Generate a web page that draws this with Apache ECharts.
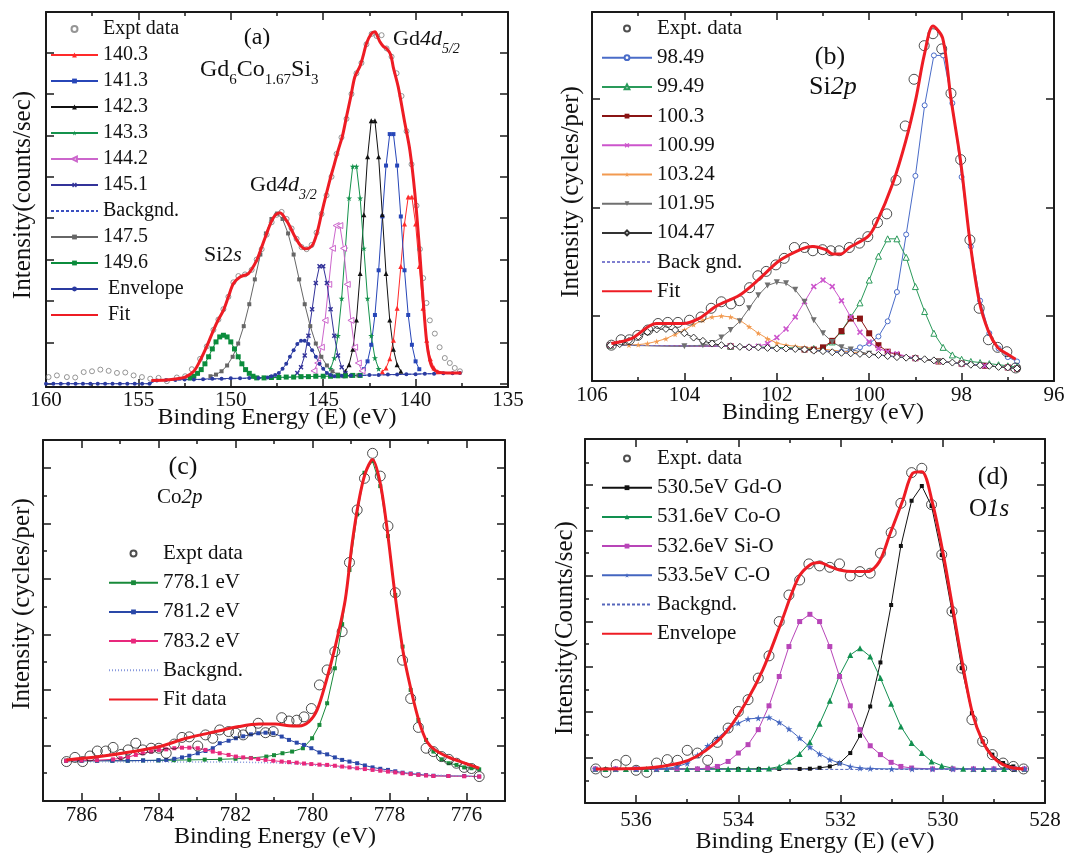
<!DOCTYPE html>
<html><head><meta charset="utf-8">
<script src="https://cdn.jsdelivr.net/npm/echarts@6/dist/echarts.min.js"></script>
<style>html,body{margin:0;padding:0;background:#fff}#c{width:1092px;height:855px}</style>
</head><body><div id="c"></div>
<script>
// ---------------- Panel (a): Gd4d ----------------
const a_expt=[[159.86,0.16],[159.41,0.2],[158.87,0.16],[158.42,0.15],[157.96,0.28],[157.51,0.3],[157.06,0.34],[156.61,0.31],[156.16,0.26],[155.71,0.27],[155.26,0.2],[154.81,0.16],[154.36,0.12],[153.91,0.14],[153.46,0.06],[152.92,0.15],[152.47,0.18],[152.11,0.35],[151.66,0.6],[151.3,0.9],[150.94,1.3],[150.67,1.55],[150.4,1.8],[150.13,2.1],[149.86,2.45],[149.59,2.6],[149.23,2.64],[148.87,2.75],[148.6,3.0],[148.33,3.25],[148.06,3.6],[147.79,3.9],[147.52,4.08],[147.25,4.15],[146.98,3.98],[146.71,3.75],[146.44,3.5],[146.17,3.3],[145.9,3.25],[145.63,3.35],[145.36,3.65],[145.09,4.1],[144.82,4.55],[144.55,5.0],[144.28,5.55],[144.01,5.95],[143.74,6.4],[143.47,7.0],[143.2,7.5],[142.93,7.75],[142.66,8.2],[142.38,8.45],[142.11,8.4],[141.84,8.42],[141.57,8.1],[141.3,7.9],[141.03,7.5],[140.76,6.95],[140.49,6.1],[140.22,5.3],[139.95,4.3],[139.77,3.25],[139.59,2.55],[139.41,1.95],[139.23,1.53],[138.96,1.21],[138.7,0.88],[138.42,0.62],[138.15,0.5],[137.88,0.38],[137.6,0.3]];
const a_p1403=[[141.8,0.29],[141.6,0.38],[141.4,0.6],[141.2,1.05],[141.0,1.82],[140.8,2.83],[140.6,3.86],[140.4,4.51],[140.2,4.51],[140.0,3.86],[139.8,2.83],[139.6,1.82],[139.4,1.05],[139.2,0.6],[139.0,0.38],[138.8,0.29]];
const a_p1413=[[142.8,0.35],[142.6,0.54],[142.4,0.94],[142.2,1.66],[142.0,2.74],[141.8,4.04],[141.6,5.27],[141.4,6.03],[141.2,6.03],[141.0,5.27],[140.8,4.04],[140.6,2.74],[140.4,1.66],[140.2,0.94],[140.0,0.54],[139.8,0.35]];
const a_p1423=[[143.8,0.3],[143.6,0.46],[143.4,0.83],[143.2,1.54],[143.0,2.66],[142.8,4.08],[142.6,5.48],[142.4,6.35],[142.2,6.35],[142.0,5.48],[141.8,4.08],[141.6,2.66],[141.4,1.54],[141.2,0.83],[141.0,0.46],[140.8,0.3]];
const a_p1433=[[144.6,0.36],[144.4,0.62],[144.2,1.16],[144.0,2.06],[143.8,3.27],[143.6,4.48],[143.4,5.25],[143.2,5.25],[143.0,4.48],[142.8,3.27],[142.6,2.06],[142.4,1.16],[142.2,0.62],[142.0,0.36]];
const a_p1442=[[145.5,0.31],[145.3,0.5],[145.1,0.88],[144.9,1.53],[144.7,2.4],[144.5,3.27],[144.3,3.82],[144.1,3.82],[143.9,3.27],[143.7,2.4],[143.5,1.53],[143.3,0.88],[143.1,0.5],[142.9,0.31]];
const a_p1451=[[146.4,0.26],[146.2,0.4],[146.0,0.68],[145.8,1.16],[145.6,1.8],[145.4,2.43],[145.2,2.84],[145.0,2.84],[144.8,2.43],[144.6,1.8],[144.4,1.16],[144.2,0.68],[144.0,0.4],[143.8,0.26]];
const a_bg=[[160,0.0],[154.3,0.0],[154.3,0.07],[137.5,0.26]];
const a_p1475=[[151.1,0.18],[150.8,0.22],[150.5,0.3],[150.2,0.44],[149.9,0.65],[149.6,0.97],[149.3,1.39],[149.0,1.92],[148.7,2.52],[148.4,3.12],[148.1,3.63],[147.8,3.98],[147.5,4.11],[147.2,3.98],[146.9,3.63],[146.6,3.12],[146.3,2.52],[146.0,1.92],[145.7,1.39],[145.4,0.97],[145.1,0.65],[144.8,0.44],[144.5,0.3],[144.2,0.22],[143.9,0.18],[143.5,0.19],[143.1,0.2]];
const a_p1496=[[152.2,0.14],[152.0,0.18],[151.8,0.25],[151.6,0.34],[151.4,0.48],[151.2,0.65],[151.0,0.84],[150.8,1.01],[150.6,1.13],[150.4,1.17],[150.2,1.13],[150.0,1.01],[149.8,0.84],[149.6,0.65],[149.4,0.48],[149.2,0.34],[149.0,0.25],[148.8,0.18],[148.6,0.14],[148.2,0.14],[147.8,0.15],[147.4,0.15],[147.0,0.16],[146.6,0.16],[146.2,0.17],[145.8,0.17],[145.4,0.18],[145.0,0.18],[144.6,0.18],[144.2,0.19],[143.8,0.19],[143.4,0.2],[143.0,0.2]];
const a_env=[[160,0.0],[159.6,0.0],[159.2,0.0],[158.8,0.0],[158.4,0.0],[158.0,0.0],[157.6,0.0],[157.2,0.0],[156.8,0.0],[156.4,0.0],[156.0,0.0],[155.6,0.0],[155.2,0.0],[154.8,0.0],[154.4,0.0],[154.0,0.08],[153.5,0.09],[153.0,0.09],[152.5,0.1],[152.0,0.1],[151.5,0.11],[151.0,0.12],[150.5,0.12],[150.0,0.13],[149.5,0.13],[149.0,0.14],[148.5,0.14],[148.0,0.15],[147.8,0.18],[147.6,0.21],[147.4,0.26],[147.2,0.36],[147.0,0.48],[146.8,0.65],[146.6,0.81],[146.4,0.96],[146.2,1.04],[146.0,1.04],[145.8,0.96],[145.6,0.81],[145.4,0.65],[145.2,0.48],[145.0,0.36],[144.8,0.26],[144.6,0.21],[144.4,0.18],[144.0,0.19],[143.5,0.2],[143.0,0.2],[142.5,0.21],[142.0,0.21],[141.5,0.22],[141.0,0.22],[140.5,0.23],[140.0,0.23],[139.5,0.24],[139.0,0.24],[138.5,0.25],[138.0,0.25],[137.6,0.26]];
const a_fit=[[154.3,0.08],[153.5,0.09],[152.9,0.12],[152.47,0.16],[152.0,0.3],[151.66,0.56],[151.3,0.9],[150.94,1.29],[150.67,1.55],[150.4,1.77],[150.13,2.1],[149.86,2.42],[149.5,2.58],[149.05,2.66],[148.6,2.98],[148.33,3.3],[148.06,3.63],[147.8,3.92],[147.6,4.07],[147.34,4.13],[147.0,3.95],[146.75,3.75],[146.53,3.55],[146.25,3.35],[145.99,3.26],[145.75,3.28],[145.54,3.38],[145.3,3.7],[145.09,4.11],[144.85,4.55],[144.64,4.92],[144.4,5.3],[144.19,5.64],[143.95,6.0],[143.74,6.45],[143.5,6.95],[143.29,7.41],[143.02,7.66],[142.85,7.9],[142.66,8.22],[142.4,8.45],[142.2,8.5],[142.05,8.38],[141.93,8.26],[141.75,8.15],[141.57,8.1],[141.35,7.95],[141.21,7.65],[140.94,7.17],[140.58,6.29],[140.31,5.64],[140.04,4.6],[139.77,3.14],[139.59,2.01],[139.41,1.05],[139.23,0.56],[139.05,0.36],[138.7,0.27],[138.3,0.26],[137.52,0.26]];

// ---------------- Panel (b): Si2p ----------------
const b_expt=[[105.58,0.73],[105.37,0.78],[105.19,0.78],[105.01,0.82],[104.79,0.87],[104.57,0.93],[104.36,0.94],[104.14,0.94],[103.89,0.96],[103.64,0.99],[103.42,1.07],[103.2,1.13],[102.99,1.11],[102.81,1.14],[102.59,1.26],[102.41,1.37],[102.23,1.41],[102.02,1.47],[101.84,1.53],[101.62,1.63],[101.4,1.63],[101.22,1.6],[101.01,1.61],[100.83,1.6],[100.65,1.6],[100.43,1.63],[100.21,1.67],[100.03,1.73],[99.82,1.86],[99.62,1.94],[99.42,2.25],[99.22,2.75],[99.03,3.18],[98.81,3.49],[98.62,3.6],[98.43,3.46],[98.23,3.05],[98.02,2.44],[97.82,1.7],[97.62,1.07],[97.42,0.78],[97.22,0.71],[97.02,0.67],[96.83,0.52]];
const b_p9849=[[105.6,0.73],[103.0,0.72],[101.4,0.69],[101.0,0.68],[100.6,0.67],[100.4,0.68],[100.2,0.71],[100.0,0.745],[99.8,0.81],[99.6,0.95],[99.4,1.22],[99.2,1.75],[99.0,2.29],[98.8,2.94],[98.6,3.4],[98.4,3.4],[98.2,2.96],[98.0,2.28],[97.8,1.64],[97.6,1.14],[97.4,0.84],[97.2,0.7],[97.0,0.62],[96.8,0.58]];
const b_p9949=[[105.6,0.73],[103.0,0.72],[101.2,0.7],[101.0,0.7],[100.8,0.76],[100.6,0.86],[100.4,0.99],[100.2,1.12],[100.0,1.33],[99.8,1.55],[99.6,1.71],[99.4,1.71],[99.2,1.54],[99.0,1.27],[98.8,1.04],[98.6,0.84],[98.4,0.71],[98.2,0.64],[98.0,0.6],[97.8,0.58],[97.6,0.57],[97.4,0.56],[97.2,0.55],[97.0,0.54],[96.8,0.53]];
const b_p1003=[[105.6,0.73],[103.0,0.72],[101.4,0.69],[101.2,0.69],[101.0,0.71],[100.8,0.77],[100.6,0.86],[100.4,0.975],[100.2,0.975],[100.0,0.84],[99.8,0.73],[99.6,0.67],[99.4,0.64],[99.0,0.61],[98.5,0.58],[98.0,0.56],[97.5,0.54],[97.0,0.525],[96.8,0.515]];
const b_p10099=[[105.6,0.73],[103.0,0.72],[102.6,0.71],[102.4,0.72],[102.2,0.745],[102.0,0.8],[101.8,0.88],[101.6,0.99],[101.4,1.13],[101.2,1.27],[101.0,1.33],[100.8,1.27],[100.6,1.14],[100.4,0.99],[100.2,0.85],[100.0,0.76],[99.8,0.7],[99.6,0.67],[99.4,0.65],[99.0,0.61],[98.5,0.58],[98.0,0.56],[97.5,0.54],[97.0,0.525],[96.8,0.515]];
const b_p10324=[[105.6,0.73],[105.2,0.73],[105.0,0.735],[104.8,0.745],[104.6,0.765],[104.4,0.79],[104.2,0.83],[104.0,0.87],[103.8,0.92],[103.6,0.96],[103.4,0.99],[103.2,1.0],[103.0,0.99],[102.8,0.96],[102.6,0.9],[102.4,0.84],[102.2,0.79],[102.0,0.75],[101.8,0.73],[101.6,0.72],[101.4,0.71],[100.0,0.65],[98.5,0.58],[96.8,0.515]];
const b_p10195=[[105.6,0.73],[104.0,0.72],[103.6,0.73],[103.4,0.75],[103.2,0.8],[103.0,0.87],[102.8,0.95],[102.6,1.07],[102.4,1.19],[102.2,1.28],[102.0,1.31],[101.8,1.3],[101.6,1.24],[101.4,1.13],[101.2,0.96],[101.0,0.84],[100.8,0.76],[100.6,0.71],[100.4,0.69],[100.0,0.65],[98.5,0.58],[96.8,0.515]];
const b_p10447=[[105.6,0.73],[105.4,0.74],[105.2,0.77],[105.0,0.81],[104.8,0.85],[104.6,0.875],[104.4,0.88],[104.2,0.87],[104.0,0.84],[103.8,0.8],[103.6,0.77],[103.4,0.745],[103.2,0.73],[103.0,0.72],[102.8,0.715],[102.6,0.71],[102.4,0.71],[102.2,0.705],[102.0,0.7],[101.8,0.7],[101.6,0.695],[101.4,0.69],[101.2,0.68],[101.0,0.675],[100.8,0.665],[100.6,0.66],[100.4,0.655],[100.2,0.65],[100.0,0.645],[99.8,0.64],[99.6,0.63],[99.4,0.62],[99.2,0.615],[99.0,0.61],[98.8,0.6],[98.6,0.59],[98.4,0.58],[98.2,0.57],[98.0,0.56],[97.8,0.55],[97.6,0.545],[97.4,0.54],[97.2,0.53],[97.0,0.525],[96.8,0.515]];
const b_bg=[[105.6,0.73],[103.0,0.72],[102.0,0.7],[101.0,0.675],[100.0,0.645],[99.0,0.61],[98.0,0.56],[97.0,0.525],[96.8,0.515]];
const b_fit=[[105.58,0.745],[105.15,0.79],[104.61,0.93],[104.03,0.93],[103.67,0.98],[103.31,1.09],[102.81,1.19],[102.38,1.34],[101.94,1.51],[101.44,1.62],[101.22,1.64],[100.94,1.61],[100.79,1.57],[100.61,1.57],[100.43,1.63],[100.03,1.73],[99.85,1.85],[99.49,2.22],[99.21,2.61],[98.99,3.0],[98.81,3.4],[98.62,3.67],[98.41,3.56],[98.23,3.0],[98.02,2.42],[97.82,1.69],[97.62,1.14],[97.42,0.86],[97.22,0.71],[97.02,0.65],[96.83,0.6]];

// ---------------- Panel (c): Co2p ----------------
const c_expt=[[786.39,1.42],[786.17,1.57],[785.97,1.42],[785.78,1.62],[785.59,1.8],[785.37,1.8],[785.18,1.93],[784.97,1.68],[784.79,1.84],[784.59,2.08],[784.41,1.84],[784.19,1.9],[783.99,1.9],[783.8,1.72],[783.59,2.05],[783.39,2.29],[783.2,2.31],[782.98,1.98],[782.78,2.38],[782.59,2.26],[782.41,2.56],[782.18,2.5],[781.99,2.44],[781.8,2.38],[781.6,2.56],[781.41,2.8],[781.22,2.46],[781.02,2.5],[780.8,3.0],[780.61,2.88],[780.41,2.91],[780.22,3.03],[780.03,3.33],[779.82,4.18],[779.62,4.72],[779.42,5.38],[779.23,6.1],[779.04,8.59],[778.84,10.48],[778.65,11.62],[778.44,12.52],[778.24,11.7],[778.04,9.9],[777.85,7.5],[777.66,5.07],[777.45,3.69],[777.25,2.65],[777.05,1.9],[776.86,1.78],[776.65,1.6],[776.46,1.5],[776.26,1.36],[776.06,1.21],[775.87,1.17],[775.67,0.88]];
const c_p7781=[[786.4,1.45],[786.0,1.45],[785.6,1.45],[785.2,1.45],[784.8,1.45],[784.4,1.46],[784.0,1.46],[783.6,1.47],[783.2,1.48],[782.8,1.49],[782.4,1.5],[782.0,1.52],[781.6,1.55],[781.2,1.6],[781.0,1.65],[780.78,1.72],[780.53,1.78],[780.25,1.9],[780.01,2.26],[779.82,2.74],[779.62,3.52],[779.42,4.78],[779.23,6.37],[779.04,8.32],[778.84,10.32],[778.65,11.82],[778.44,12.24],[778.24,11.34],[778.04,9.54],[777.85,7.42],[777.66,5.56],[777.45,4.0],[777.25,2.92],[777.05,2.2],[776.86,1.78],[776.65,1.5],[776.46,1.36],[776.26,1.3],[776.06,1.21],[775.87,1.18],[775.67,1.14]];
const c_p7812=[[786.4,1.45],[786.0,1.45],[785.6,1.45],[785.2,1.45],[784.8,1.45],[784.4,1.46],[784.0,1.47],[783.8,1.48],[783.59,1.52],[783.39,1.57],[783.2,1.63],[782.98,1.72],[782.78,1.8],[782.59,1.9],[782.41,2.08],[782.18,2.17],[781.99,2.26],[781.8,2.33],[781.6,2.4],[781.41,2.44],[781.22,2.46],[781.02,2.44],[780.8,2.32],[780.61,2.2],[780.41,2.1],[780.22,2.02],[780.03,1.9],[779.82,1.75],[779.62,1.68],[779.42,1.57],[779.23,1.48],[779.04,1.42],[778.84,1.36],[778.64,1.28],[778.44,1.21],[778.24,1.16],[778.04,1.12],[777.85,1.07],[777.66,1.02],[777.45,0.99],[777.25,0.96],[777.05,0.93],[776.86,0.91],[776.47,0.9],[776.06,0.9],[775.67,0.88]];
const c_p7832=[[786.4,1.45],[786.0,1.46],[785.6,1.47],[785.18,1.5],[784.99,1.54],[784.79,1.58],[784.59,1.66],[784.41,1.72],[784.19,1.78],[783.99,1.84],[783.8,1.86],[783.59,1.9],[783.39,1.92],[783.2,1.92],[782.98,1.9],[782.78,1.84],[782.59,1.78],[782.41,1.72],[782.18,1.66],[781.99,1.6],[781.8,1.57],[781.6,1.54],[781.41,1.51],[781.22,1.48],[781.02,1.45],[780.8,1.42],[780.61,1.4],[780.41,1.38],[780.22,1.35],[780.03,1.33],[779.82,1.31],[779.62,1.3],[779.42,1.27],[779.23,1.24],[779.04,1.21],[778.84,1.18],[778.64,1.15],[778.44,1.12],[778.24,1.09],[778.04,1.06],[777.85,1.03],[777.66,1.0],[777.45,0.97],[777.25,0.94],[777.05,0.92],[776.86,0.9],[776.47,0.9],[776.06,0.89],[775.67,0.88]];
const c_bg=[[786.4,1.42],[784.0,1.41],[782.0,1.4],[780.8,1.37],[779.5,1.25],[778.0,1.06],[777.0,0.94],[775.67,0.88]];
const c_fit=[[786.39,1.48],[785.53,1.6],[784.66,1.78],[783.97,1.96],[783.28,2.26],[782.51,2.5],[781.91,2.68],[781.39,2.77],[780.96,2.77],[780.61,2.71],[780.35,2.7],[780.09,2.86],[779.88,3.28],[779.66,4.24],[779.41,5.56],[779.15,7.24],[778.97,9.28],[778.8,10.78],[778.63,11.8],[778.44,12.3],[778.24,11.44],[778.07,9.88],[777.85,7.36],[777.64,5.32],[777.42,3.88],[777.23,2.86],[777.03,2.14],[776.82,1.84],[776.47,1.58],[776.04,1.36],[775.67,1.18]];

// ---------------- Panel (d): O1s ----------------
const d_expt=[[536.79,1.5],[536.59,1.35],[536.39,1.69],[536.2,1.88],[536.0,1.44],[535.79,1.35],[535.6,1.76],[535.39,1.91],[535.19,1.88],[535.0,2.32],[534.8,2.2],[534.6,1.88],[534.41,2.67],[534.2,3.3],[534.0,4.03],[533.81,4.55],[533.61,5.5],[533.4,6.48],[533.2,7.99],[533.01,9.16],[532.8,9.82],[532.62,10.53],[532.41,10.44],[532.21,10.38],[532.02,10.53],[531.81,10.0],[531.62,10.19],[531.42,10.12],[531.22,11.0],[531.01,11.91],[530.82,13.2],[530.61,14.55],[530.41,14.74],[530.22,13.14],[530.02,10.94],[529.82,8.44],[529.63,5.94],[529.43,3.67],[529.22,2.71],[529.03,2.13],[528.82,1.76],[528.62,1.61],[528.42,1.5]];
const d_gdo=[[536.8,1.5],[536.4,1.5],[536.0,1.5],[535.6,1.5],[535.2,1.5],[534.8,1.5],[534.4,1.5],[534.0,1.5],[533.6,1.5],[533.2,1.5],[532.8,1.5],[532.6,1.51],[532.41,1.55],[532.21,1.61],[532.02,1.75],[531.81,2.2],[531.62,2.96],[531.42,4.25],[531.22,6.19],[531.01,8.72],[530.82,11.32],[530.61,13.31],[530.41,13.96],[530.22,13.08],[530.02,10.92],[529.82,8.43],[529.63,5.94],[529.43,3.96],[529.22,2.71],[529.03,2.13],[528.82,1.76],[528.62,1.61],[528.42,1.5]];
const d_coo=[[536.8,1.5],[536.6,1.5],[536.4,1.5],[536.2,1.5],[536.0,1.5],[535.8,1.5],[535.6,1.5],[535.4,1.5],[535.2,1.5],[535.0,1.5],[534.8,1.5],[534.6,1.5],[534.4,1.5],[534.2,1.5],[534.0,1.5],[533.8,1.5],[533.6,1.5],[533.4,1.52],[533.2,1.6],[533.01,1.83],[532.8,2.16],[532.6,2.67],[532.41,3.49],[532.21,4.5],[532.02,5.62],[531.81,6.52],[531.62,6.82],[531.42,6.45],[531.22,5.5],[531.01,4.37],[530.82,3.37],[530.61,2.64],[530.41,2.2],[530.22,1.83],[530.02,1.64],[529.82,1.54],[529.6,1.51],[529.4,1.5],[529.2,1.5],[529.0,1.5],[528.8,1.5],[528.6,1.5],[528.4,1.5]];
const d_sio=[[536.8,1.5],[536.4,1.5],[536.0,1.5],[535.6,1.5],[535.2,1.5],[534.8,1.5],[534.6,1.54],[534.41,1.61],[534.2,1.83],[534.0,2.2],[533.81,2.57],[533.61,3.23],[533.4,4.28],[533.2,5.57],[533.01,6.89],[532.8,7.99],[532.6,8.31],[532.41,7.99],[532.21,6.89],[532.02,5.57],[531.81,4.28],[531.62,3.23],[531.42,2.52],[531.22,2.13],[531.01,1.79],[530.82,1.61],[530.61,1.54],[530.2,1.5],[529.8,1.5],[529.4,1.5],[529.0,1.5],[528.6,1.5],[528.4,1.5]];
const d_co=[[536.8,1.5],[536.4,1.5],[536.0,1.5],[535.6,1.5],[535.4,1.52],[535.2,1.6],[535.0,1.75],[534.8,2.1],[534.6,2.52],[534.41,2.86],[534.2,3.26],[534.0,3.52],[533.81,3.7],[533.61,3.74],[533.4,3.77],[533.2,3.55],[533.01,3.26],[532.8,2.86],[532.6,2.46],[532.41,2.16],[532.21,1.91],[532.02,1.76],[531.81,1.61],[531.62,1.54],[531.42,1.52],[531.0,1.5],[530.6,1.5],[530.2,1.5],[529.8,1.5],[529.4,1.5],[529.0,1.5],[528.6,1.5],[528.4,1.5]];
const d_bg=[[536.8,1.48],[528.4,1.48]];
const d_env=[[536.79,1.5],[535.79,1.54],[535.14,1.76],[534.82,2.05],[534.49,2.57],[534.2,3.23],[533.84,4.47],[533.52,5.87],[533.19,7.77],[532.83,9.9],[532.6,10.48],[532.41,10.59],[532.21,10.41],[532.02,10.26],[531.76,10.19],[531.47,10.19],[531.24,10.63],[531.04,11.8],[530.78,13.34],[530.59,14.52],[530.41,14.59],[530.2,13.2],[530.0,11.07],[529.81,8.65],[529.61,6.08],[529.42,3.96],[529.22,2.71],[529.03,2.05],[528.82,1.69],[528.62,1.54],[528.42,1.5]];

// ---------------- tick values ----------------
const a_xMajor=[135,140,145,150,155,160], a_xMinor=[137.5,142.5,147.5,152.5,157.5];
const a_yMajor=[0,1,2,3,4,5,6,7,8];
const b_xMajor=[96,98,100,102,104,106], b_xMinor=[97,99,101,103,105];
const b_yMajor=[1,2,3];
const c_xMajor=[776,778,780,782,784,786], c_xMinor=[777,779,781,783,785];
const c_yMajor=[2,4,6,8,10,12], c_yMinor=[1,3,5,7,9,11];
const d_xMajor=[528,530,532,534,536], d_xMinor=[529,531,533,535];
const d_yMajor=[2,4,6,8,10,12,14], d_yMinor=[1,3,5,7,9,11,13,15];

const FONT='"Liberation Serif","Times New Roman",serif';
const INK='#1a1a1a';

function mkAxes(kind, gi, min, max, inverse, majors, minors, labelOpt){
  const sides = kind==='x' ? ['bottom','top'] : ['left','right'];
  const out=[];
  sides.forEach((p,pi)=>{
    out.push({type:'value', gridIndex:gi, position:p, min:min, max:max, inverse:inverse,
      axisLine:{show:true,onZero:false,lineStyle:{color:INK,width:2}},
      axisTick:{show:true,inside:true,length:8,customValues:majors,lineStyle:{color:INK,width:1.5}},
      axisLabel:(pi===0 && labelOpt)?Object.assign({show:true,customValues:majors,fontFamily:FONT,fontSize:21,color:'#111'},labelOpt):{show:false},
      splitLine:{show:false}, minorTick:{show:false}});
    out.push({type:'value', gridIndex:gi, position:p, min:min, max:max, inverse:inverse,
      axisLine:{show:false,onZero:false},
      axisTick:minors.length?{show:true,inside:true,length:4,customValues:minors,lineStyle:{color:INK,width:1.5}}:{show:false},
      axisLabel:{show:false}, splitLine:{show:false}, minorTick:{show:false}});
  });
  return out;
}

const STAR='path://M50,0L61,35L98,35L68,57L79,91L50,70L21,91L32,57L2,35L39,35Z';
const XMARK='path://M0,2L2,0L5,3L8,0L10,2L7,5L10,8L8,10L5,7L2,10L0,8L3,5Z';
const OPEN=['emptyCircle','emptyTriangle','emptyDiamond'];

function ln(g,name,data,color,symbol,size,extra){
  const open=OPEN.indexOf(symbol)>=0;
  const s={type:'line',name:name,data:data,xAxisIndex:4*g,yAxisIndex:4*g,
    symbol:open?symbol.replace('empty','').toLowerCase():symbol,symbolSize:size,showSymbol:symbol!=='none',
    lineStyle:{color:color,width:1},
    itemStyle:open?{color:'#ffffff',borderColor:color,borderWidth:1}:{color:color,borderColor:color,borderWidth:0},
    z:3,animation:false,silent:true};
  return Object.assign(s,extra||{});
}
function sc(g,name,data,color,size){
  return {type:'scatter',name:name,data:data,xAxisIndex:4*g,yAxisIndex:4*g,
    symbol:'circle',symbolSize:size,itemStyle:{color:'rgba(255,255,255,0)',borderColor:color,borderWidth:1},
    z:4,animation:false,silent:true};
}
function fit(g,name,data){
  return ln(g,name,data,'#ee1c24','none',0,{lineStyle:{color:'#ee1c24',width:3},smooth:0.3,z:6});
}

const series=[
  // (a)
  sc(0,'a|Expt data',a_expt,'#7a7a7a',5),
  ln(0,'a|140.3',a_p1403,'#ff2a2a','triangle',5),
  ln(0,'a|141.3',a_p1413,'#2746b8','rect',4),
  ln(0,'a|142.3',a_p1423,'#111111','triangle',5),
  ln(0,'a|143.3',a_p1433,'#14924c',STAR,6),
  ln(0,'a|144.2',a_p1442,'#cc66cc','emptyTriangle',6,{symbolRotate:90}),
  ln(0,'a|145.1',a_p1451,'#333399',XMARK,5),
  ln(0,'a|Backgnd.',a_bg,'#3a4fc0','none',0,{lineStyle:{color:'#3a4fc0',width:1,type:[3,2]}}),
  ln(0,'a|147.5',a_p1475,'#666666','rect',4),
  ln(0,'a|149.6',a_p1496,'#0b8c3c','rect',5),
  ln(0,'a| Envelope',a_env,'#2a3aa0','circle',4),
  fit(0,'a| Fit',a_fit),
  // (b)
  sc(1,'b|Expt. data',b_expt,'#222',10),
  ln(1,'b|98.49',b_p9849,'#4a6cc8','emptyCircle',5),
  ln(1,'b|99.49',b_p9949,'#2a9a5a','emptyTriangle',6),
  ln(1,'b|100.3',b_p1003,'#8a1414','rect',6),
  ln(1,'b|100.99',b_p10099,'#cc55cc',XMARK,6),
  ln(1,'b|103.24',b_p10324,'#f29a50',STAR,6),
  ln(1,'b|101.95',b_p10195,'#707070','triangle',6,{symbolRotate:180}),
  ln(1,'b|104.47',b_p10447,'#333333','emptyDiamond',7),
  ln(1,'b|Back gnd.',b_bg,'#7f7fd0','none',0,{lineStyle:{color:'#7f7fd0',width:1,type:[3,2]}}),
  fit(1,'b|Fit',b_fit),
  // (c)
  sc(2,'c|Expt data',c_expt,'#222',10),
  ln(2,'c|778.1 eV',c_p7781,'#188a3a','rect',4),
  ln(2,'c|781.2 eV',c_p7812,'#2a48a8','rect',4),
  ln(2,'c|783.2 eV',c_p7832,'#e8287c','rect',4),
  ln(2,'c|Backgnd.',c_bg,'#8899dd','none',0,{lineStyle:{color:'#8899dd',width:1.5,type:[1,2]}}),
  fit(2,'c|Fit data',c_fit),
  // (d)
  sc(3,'d|Expt. data',d_expt,'#222',10),
  ln(3,'d|530.5eV Gd-O',d_gdo,'#111111','rect',4),
  ln(3,'d|531.6eV Co-O',d_coo,'#129050','triangle',6),
  ln(3,'d|532.6eV Si-O',d_sio,'#b845b8','rect',5),
  ln(3,'d|533.5eV C-O',d_co,'#4466c0',STAR,7),
  ln(3,'d|Backgnd.',d_bg,'#5566bb','none',0,{lineStyle:{color:'#5566bb',width:1,type:[3,2]}}),
  fit(3,'d|Envelope',d_env)
];

function legendFor(prefix,left,top,gap,w,fs){
  return {show:true,orient:'vertical',left:left,top:top,padding:0,itemGap:gap,itemWidth:w,itemHeight:6,
    selectedMode:false,
    data:series.filter(s=>s.name.startsWith(prefix+'|')).map(s=>
      s.symbol==='none'?{name:s.name,itemStyle:{opacity:0,borderWidth:0}}:{name:s.name}),
    formatter:n=>n.split('|')[1],
    textStyle:{fontFamily:FONT,fontSize:fs,color:'#111',lineHeight:20}};
}

const xAxes=[].concat(
  mkAxes('x',0,135,160,true,a_xMajor,a_xMinor,{margin:3}),
  mkAxes('x',1,96,106,true,b_xMajor,b_xMinor,{margin:4}),
  mkAxes('x',2,775,787,true,c_xMajor,c_xMinor,{margin:4}),
  mkAxes('x',3,528,537,true,d_xMajor,d_xMinor,{margin:7})
);
const yAxes=[].concat(
  mkAxes('y',0,-0.08,8.98,false,a_yMajor,[],null),
  mkAxes('y',1,0.4,3.8,false,b_yMajor,[],null),
  mkAxes('y',2,0,13,false,c_yMajor,c_yMinor,null),
  mkAxes('y',3,0,16.03,false,d_yMajor,d_yMinor,null)
);

function txt(x,y,s,size,rot){
  return {type:'text',x:x,y:y,rotation:rot||0,silent:true,
    style:{text:s,fontFamily:FONT,fontSize:size,fill:'#111',align:'center',verticalAlign:'middle',textAlign:'center',textVerticalAlign:'middle'}};
}
function rich(left,top,s,size,subSize){
  return {type:'text',left:left,top:top,silent:true,
    style:{text:s,fill:'#111',rich:{
      n:{fontFamily:FONT,fontSize:size,padding:[0,0,6,0],verticalAlign:'bottom'},
      i:{fontFamily:FONT,fontSize:size,fontStyle:'italic',padding:[0,0,6,0],verticalAlign:'bottom'},
      s:{fontFamily:FONT,fontSize:subSize,verticalAlign:'bottom'},
      si:{fontFamily:FONT,fontSize:subSize,fontStyle:'italic',verticalAlign:'bottom'}}}};
}

const option={
  animation:false,
  backgroundColor:'#fff',
  grid:[
    {left:46,top:12,width:462,height:375},
    {left:592,top:12,width:462,height:369},
    {left:43,top:440,width:462,height:361},
    {left:585,top:439,width:460,height:364}
  ],
  xAxis:xAxes,
  yAxis:yAxes,
  legend:[
    legendFor('a',50,19,6,47,20),
    legendFor('b',601,18,8.2,50,21),
    legendFor('c',108,543,8.2,49,21),
    legendFor('d',601,448,8.2,50,21)
  ],
  series:series,
  graphic:[
    txt(277,418,'Binding Energy (E) (eV)',24),
    txt(23,195,'Intensity(counts/sec)',25,Math.PI/2),
    txt(823,413,'Binding Energy (eV)',24),
    txt(571,192,'Intensity (cycles/per)',25,Math.PI/2),
    txt(275,837,'Binding Energy (eV)',24),
    txt(22,604,'Intensity (cycles/per)',25,Math.PI/2),
    txt(815,842,'Binding Energy (E) (eV)',24),
    txt(565,628,'Intensity(Counts/sec)',25,Math.PI/2),
    txt(257,38,'(a)',24),
    rich(200,58,'{n|Gd}{s|6}{n|Co}{s|1.67}{n|Si}{s|3}',24,15),
    rich(393,28,'{n|Gd}{i|4d}{si|5/2}',22,14),
    rich(250,174,'{n|Gd}{i|4d}{si|3/2}',22,14),
    rich(204,244,'{n|Si2}{i|s}',22,14),
    txt(830,57,'(b)',26),
    rich(809,74,'{n|Si}{i|2p}',26,16),
    txt(183,467,'(c)',26),
    rich(157,487,'{n|Co}{i|2p}',21,14),
    txt(993,477,'(d)',26),
    rich(969,497,'{n|O}{i|1s}',25,16)
  ]
};
const chart=echarts.init(document.getElementById('c'),null,{renderer:'canvas'});
chart.setOption(option);
</script></body></html>
